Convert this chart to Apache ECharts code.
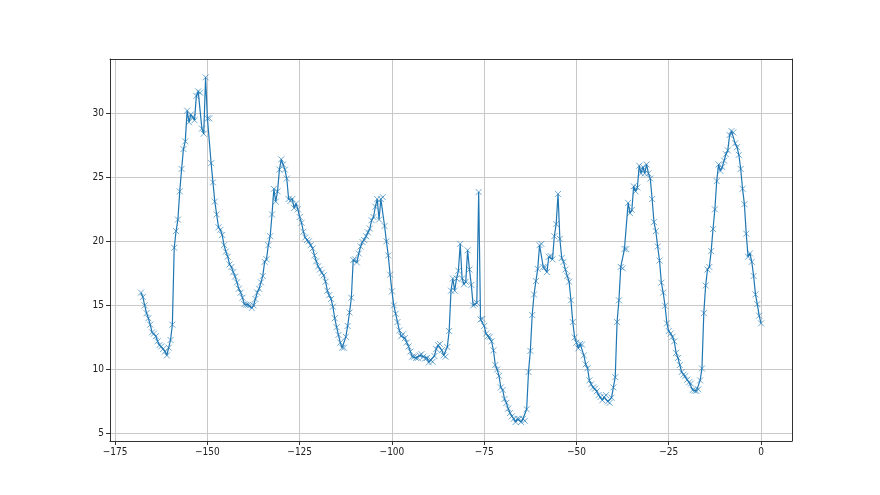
<!DOCTYPE html>
<html>
<head>
<meta charset="utf-8">
<script src="https://cdn.jsdelivr.net/npm/echarts@6/dist/echarts.min.js"></script>
<style>
  html, body { margin: 0; padding: 0; background: #fff; }
  #chart { width: 880px; height: 495px; }
</style>
</head>
<body>
<div id="chart"></div>
<script>
// half-hourly readings over the last week, oldest first (x = hours before now)
const startHour = -168
const stepHours = 0.5
const values = [
  16.0, 15.65, 15.0, 14.4, 14.0, 13.5, 12.9, 12.8, 12.6, 12.2,
  11.9, 11.8, 11.6, 11.4, 11.1, 11.7, 12.3, 13.5, 19.5, 20.8,
  21.7, 23.9, 25.65, 27.2, 27.8, 30.2, 29.3, 29.9, 29.7, 29.45,
  31.35, 31.7, 31.6, 28.8, 28.4, 32.8, 29.6, 29.6, 26.1, 24.6,
  23.1, 22.1, 21.1, 20.9, 20.5, 19.7, 19.2, 18.8, 18.2, 18.0,
  17.6, 17.25, 16.8, 16.3, 16.0, 15.6, 15.1, 15.05, 15.05, 15.0,
  14.8, 15.0, 15.5, 16.0, 16.3, 16.8, 17.3, 18.4, 18.6, 19.7,
  20.4, 22.1, 24.1, 23.1, 23.9, 25.6, 26.4, 26.0, 25.6, 24.9,
  23.3, 23.15, 23.3, 22.6, 22.95, 22.5, 21.9, 21.45, 20.75, 20.3,
  20.1, 20.0, 19.7, 19.45, 18.9, 18.45, 18.05, 17.8, 17.55, 17.35,
  16.85, 16.15, 15.8, 15.5, 14.9, 14.0, 13.3, 12.7, 12.1, 11.7,
  11.7, 12.55, 13.4, 14.45, 15.6, 18.55, 18.6, 18.35, 19.05, 19.6,
  19.95, 20.1, 20.4, 20.7, 21.0, 21.65, 21.9, 22.7, 23.3, 21.7,
  23.3, 23.45, 21.2, 20.0, 18.9, 17.4, 16.1, 15.0, 14.35, 13.7,
  13.05, 12.6, 12.75, 12.45, 12.1, 11.8, 11.4, 11.0, 11.0, 10.9,
  10.9, 11.1, 11.2, 11.0, 10.85, 10.9, 10.55, 10.75, 10.6, 11.05,
  11.6, 11.9, 12.0, 11.5, 11.1, 11.0, 11.75, 13.0, 16.15, 17.1,
  16.15, 17.1, 17.7, 19.8, 17.1, 16.65, 16.85, 19.3, 17.8, 16.6,
  15.0, 15.1, 15.2, 23.85, 13.9, 13.95, 13.4, 12.8, 12.6, 12.55,
  12.2, 11.5, 10.35, 10.0, 9.5, 8.6, 8.4, 7.7, 7.4, 6.95,
  6.6, 6.35, 6.15, 5.9, 6.15, 6.15, 5.9, 6.15, 6.0, 6.9,
  9.8, 11.45, 14.25, 15.85, 16.9, 17.85, 19.7, 19.8, 18.0, 18.0,
  17.6, 18.8, 18.85, 18.6, 20.4, 21.35, 23.7, 20.2, 18.7, 18.4,
  17.8, 17.3, 16.85, 15.4, 13.7, 12.5, 12.1, 11.65, 12.0, 11.95,
  11.1, 10.4, 10.1, 9.15, 8.85, 8.6, 8.5, 8.3, 8.0, 7.85,
  7.6, 7.85, 8.0, 7.5, 7.4, 7.8, 8.6, 9.4, 13.7, 15.4,
  18.0, 17.9, 19.4, 19.4, 23.0, 22.2, 22.45, 24.3, 23.9, 24.2,
  25.9, 25.3, 25.8, 25.3, 26.0, 25.3, 24.9, 23.3, 21.5, 20.8,
  19.6, 18.5, 16.77, 16.0, 14.97, 13.6, 13.0, 12.8, 12.55, 12.2,
  11.3, 10.9, 10.35, 9.8, 9.6, 9.5, 9.2, 9.0, 8.9, 8.4,
  8.35, 8.33, 8.45, 9.15, 10.08, 14.4, 16.55, 17.8, 18.0, 19.24,
  20.96, 22.5, 24.7, 26.0, 25.5, 25.8, 26.3, 26.8, 27.1, 28.3,
  28.6, 28.5, 27.65, 27.35, 26.75, 25.65, 24.1, 22.9, 20.6, 18.8,
  19.06, 18.4, 17.3, 15.86, 15.1, 14.2, 13.6
]
const xTicks = [-175, -150, -125, -100, -75, -50, -25, 0]
const yTicks = [5, 10, 15, 20, 25, 30]

const xRange = { min: -176.4, max: 8.4 }
const yRange = { min: 4.42, max: 34.23 }

const chart = echarts.init(document.getElementById('chart'))

const points = values.map((v, i) => [startHour + i * stepHours, v])
const minus = v => String(v).replace('-', '\u2212')

const spine = { show: true, onZero: false, lineStyle: { color: '#333', width: 1 } }

const axisCommon = {
    type: 'value',
    axisLine: spine,
    axisTick: { show: true, inside: false, length: 4, lineStyle: { color: '#333', width: 1 } },
    axisLabel: {
        color: '#222',
        fontFamily: '"Liberation Sans Narrow", "DejaVu Sans Condensed", sans-serif',
        fontSize: 10,
        margin: 6,
        formatter: minus
    },
    splitLine: { show: true, lineStyle: { color: '#c8c8c8', width: 1 } }
}

// top / right spines only
const frameAxis = {
    type: 'value',
    axisLine: spine,
    axisTick: { show: false },
    axisLabel: { show: false },
    splitLine: { show: false }
}

const option = {
    backgroundColor: '#fff',
    animation: false,
    grid: {
        left: 110,
        right: 88,
        top: 59,
        bottom: 54
    },
    xAxis: [
        Object.assign({}, axisCommon, xRange, {
            position: 'bottom',
            axisTick: Object.assign({}, axisCommon.axisTick, { customValues: xTicks }),
            axisLabel: Object.assign({}, axisCommon.axisLabel, { customValues: xTicks })
        }),
        Object.assign({}, frameAxis, xRange, { position: 'top' })
    ],
    yAxis: [
        Object.assign({}, axisCommon, yRange, {
            position: 'left',
            axisTick: Object.assign({}, axisCommon.axisTick, { customValues: yTicks }),
            axisLabel: Object.assign({}, axisCommon.axisLabel, { customValues: yTicks })
        }),
        Object.assign({}, frameAxis, yRange, { position: 'right' })
    ],
    series: [
        {
            type: 'line',
            xAxisIndex: 0,
            yAxisIndex: 0,
            data: points,
            showSymbol: true,
            showAllSymbol: true,
            symbol: 'path://M0,0L10,10M10,0L0,10',
            symbolSize: 6,
            itemStyle: { color: 'rgba(0,0,0,0)', borderColor: 'rgba(31,119,180,0.7)', borderWidth: 0.9 },
            lineStyle: { color: '#1f77b4', width: 1.2 },
            emphasis: { disabled: true }
        }
    ]
}

chart.setOption(option)
</script>
</body>
</html>
